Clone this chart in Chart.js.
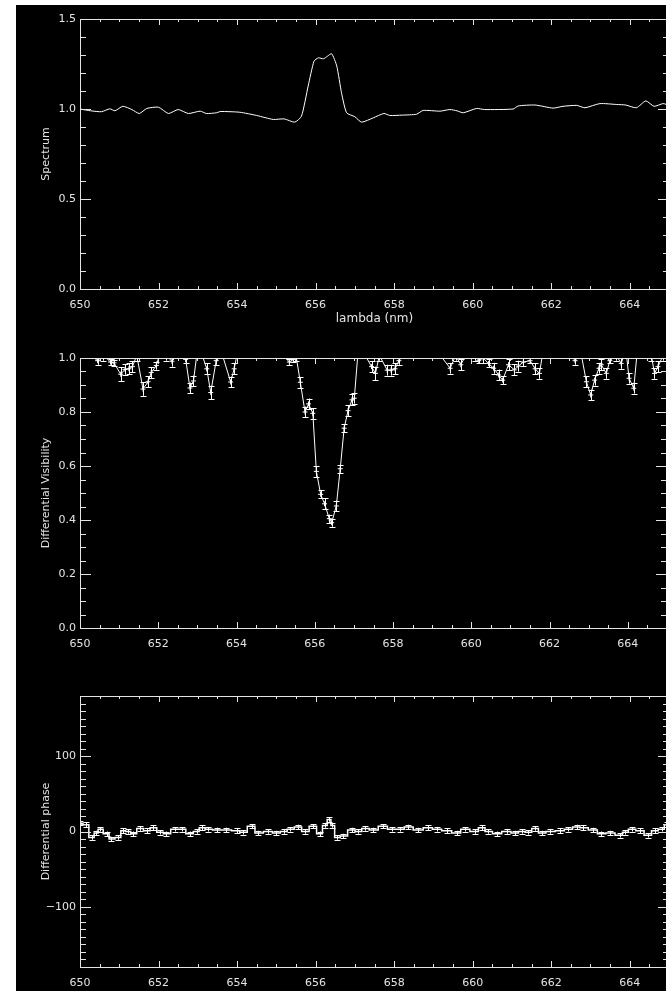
<!DOCTYPE html>
<html>
<head>
<meta charset="utf-8">
<script src="https://cdn.jsdelivr.net/npm/chart.js@4.4.0/dist/chart.umd.min.js"></script>
<style>
  html, body { margin: 0; padding: 0; background: #fff; overflow: hidden; width: 666px; height: 991px; }
  #stage { position: absolute; left: 16px; top: 5px; width: 660px; height: 986px; background: #000; }
  canvas { position: absolute; left: 16px; }
</style>
</head>
<body>
<div id="stage"></div>
<canvas id="cSpec" width="656" height="330" style="top:5px;width:656px;height:330px"></canvas>
<canvas id="cVis" width="656" height="330" style="top:335px;width:656px;height:330px"></canvas>
<canvas id="cPhase" width="656" height="326" style="top:665px;width:656px;height:326px"></canvas>
<script>
/* Hα spectro-interferometry plot: spectrum, differential visibility, differential phase. */

// ---- panel 1: spectrum ----
const specLambda = [650.00, 650.27, 650.55, 650.76, 650.89, 651.09, 651.32, 651.51, 651.70, 652.00,
  652.25, 652.50, 652.76, 653.06, 653.22, 653.48, 653.57, 654.07, 654.50, 654.92,
  655.20, 655.47, 655.64, 655.81, 655.96, 656.07, 656.20, 656.30, 656.41, 656.54,
  656.66, 656.79, 657.00, 657.17, 657.47, 657.74, 657.89, 658.20, 658.57, 658.74,
  659.17, 659.42, 659.60, 659.76, 660.10, 660.30, 661.03, 661.16, 661.59, 662.05,
  662.30, 662.65, 662.86, 663.24, 663.67, 663.90, 664.17, 664.41, 664.62, 664.85, 665.00];
const specFlux = [1.000, 0.990, 0.985, 1.001, 0.990, 1.015, 0.997, 0.975, 1.003, 1.010,
  0.975, 0.997, 0.975, 0.988, 0.975, 0.979, 0.986, 0.982, 0.964, 0.942,
  0.945, 0.927, 0.960, 1.127, 1.266, 1.284, 1.279, 1.293, 1.307, 1.238,
  1.090, 0.979, 0.957, 0.927, 0.951, 0.975, 0.964, 0.966, 0.971, 0.992,
  0.988, 0.997, 0.990, 0.979, 1.003, 0.997, 1.000, 1.017, 1.022, 1.005,
  1.015, 1.020, 1.007, 1.030, 1.025, 1.022, 1.007, 1.045, 1.015, 1.030, 1.020];

// ---- panel 2: differential visibility (values above 1.0 fall off the plot) ----
const visLambda = [650.00, 650.20, 650.45, 650.60, 650.78, 650.87, 651.04, 651.15, 651.25, 651.34,
  651.45, 651.61, 651.74, 651.82, 651.95, 652.05, 652.20, 652.35, 652.55, 652.70,
  652.81, 652.90, 653.00, 653.10, 653.24, 653.34, 653.48, 653.60, 653.85, 653.94,
  654.05, 654.50, 655.00, 655.35, 655.45, 655.53, 655.63, 655.75, 655.84, 655.95,
  656.04, 656.15, 656.25, 656.37, 656.43, 656.55, 656.65, 656.75, 656.85, 656.95,
  657.01, 657.12, 657.25, 657.45, 657.55, 657.65, 657.85, 657.95, 658.05, 658.15,
  658.30, 658.70, 659.10, 659.46, 659.60, 659.73, 659.90, 660.10, 660.19, 660.30,
  660.44, 660.57, 660.70, 660.80, 660.95, 661.10, 661.20, 661.33, 661.50, 661.63,
  661.74, 661.85, 662.20, 662.50, 662.65, 662.80, 662.94, 663.05, 663.15, 663.26,
  663.32, 663.45, 663.54, 663.70, 663.83, 663.95, 664.03, 664.15, 664.25, 664.45,
  664.60, 664.68, 664.77, 664.90, 665.00];
const visValue = [1.030, 1.020, 0.990, 1.010, 0.985, 0.982, 0.940, 0.958, 0.960, 0.968,
  1.010, 0.885, 0.912, 0.946, 0.972, 1.020, 1.010, 0.988, 1.020, 0.995,
  0.889, 0.915, 1.030, 1.020, 0.960, 0.872, 0.990, 1.030, 0.911, 0.960,
  1.040, 1.050, 1.040, 0.985, 0.995, 1.000, 0.910, 0.800, 0.830, 0.795,
  0.580, 0.495, 0.460, 0.405, 0.390, 0.452, 0.590, 0.740, 0.805, 0.845,
  0.851, 1.050, 1.020, 0.968, 0.943, 1.010, 0.955, 0.955, 0.960, 0.990,
  1.020, 1.040, 1.030, 0.962, 1.010, 0.975, 1.020, 1.010, 0.990, 1.000,
  0.980, 0.962, 0.937, 0.918, 0.975, 0.956, 0.970, 0.985, 0.990, 0.960,
  0.943, 1.040, 1.030, 1.020, 0.990, 1.020, 0.912, 0.863, 0.918, 0.962,
  0.975, 0.943, 0.990, 1.010, 0.980, 1.030, 0.925, 0.888, 1.040, 1.030,
  1.010, 0.943, 0.968, 1.010, 1.020];
const visError = [0.02, 0.02, 0.015, 0.02, 0.012, 0.012, 0.025, 0.02, 0.02, 0.02,
  0.02, 0.025, 0.02, 0.02, 0.015, 0.02, 0.02, 0.02, 0.02, 0.015,
  0.02, 0.02, 0.02, 0.02, 0.02, 0.025, 0.015, 0.02, 0.02, 0.02,
  0.02, 0.02, 0.02, 0.01, 0.01, 0.01, 0.02, 0.02, 0.02, 0.02,
  0.02, 0.015, 0.02, 0.015, 0.015, 0.02, 0.015, 0.015, 0.02, 0.02,
  0.02, 0.02, 0.02, 0.02, 0.025, 0.02, 0.02, 0.02, 0.02, 0.015,
  0.02, 0.02, 0.02, 0.02, 0.02, 0.02, 0.02, 0.02, 0.01, 0.02,
  0.015, 0.02, 0.02, 0.015, 0.02, 0.02, 0.02, 0.015, 0.01, 0.02,
  0.02, 0.02, 0.02, 0.02, 0.015, 0.02, 0.02, 0.02, 0.02, 0.02,
  0.02, 0.02, 0.01, 0.02, 0.02, 0.02, 0.02, 0.02, 0.02, 0.02,
  0.02, 0.02, 0.02, 0.02, 0.02];

// ---- panel 3: differential phase (degrees) ----
const phaseLambda = [650.00, 650.15, 650.30, 650.42, 650.50, 650.68, 650.80, 650.98, 651.10, 651.22,
  651.36, 651.53, 651.70, 651.87, 652.04, 652.20, 652.42, 652.59, 652.80, 652.97,
  653.10, 653.27, 653.48, 653.73, 653.99, 654.15, 654.37, 654.54, 654.80, 655.00,
  655.20, 655.35, 655.56, 655.73, 655.94, 656.11, 656.24, 656.35, 656.43, 656.54,
  656.71, 656.92, 657.09, 657.26, 657.47, 657.72, 657.94, 658.15, 658.36, 658.61,
  658.87, 659.08, 659.34, 659.59, 659.80, 660.06, 660.23, 660.40, 660.61, 660.87,
  661.08, 661.25, 661.42, 661.59, 661.76, 661.97, 662.23, 662.44, 662.65, 662.82,
  663.07, 663.28, 663.50, 663.75, 663.88, 664.05, 664.26, 664.47, 664.64, 664.81, 664.95];
const phaseValue = [11, 9, -8, -2, 3, -3, -10, -8, 1, 0,
  -3, 4, 1, 5, -1, -3, 3, 3, -3, 0,
  5, 3, 2, 2, 1, -1, 7, -2, 0, -2,
  0, 3, 6, 0, 7, -3, 8, 16, 8, -8,
  -6, 2, 0, 4, 2, 7, 3, 3, 6, 2,
  5, 3, 1, -2, 3, 0, 5, 0, -3, 0,
  -2, 0, -1, 4, -2, 0, 1, 3, 6, 5,
  2, -3, -2, -5, -1, 3, 1, -5, 1, 3, 9];
const phaseError = 3;

const FG = "#e4e4e4";
const LINE = "#ffffff";
const FONT = "'DejaVu Sans', sans-serif";

const pts = (xs, ys) => xs.map((x, i) => ({ x, y: ys[i] }));

// IDL style frame: box round the plot area, ticks pointing inwards on all four sides
const idlFrame = {
  id: "idlFrame",
  afterDraw(chart, args, o) {
    const { ctx, chartArea: a, scales: { x, y } } = chart;
    ctx.save();
    ctx.strokeStyle = FG;
    ctx.lineWidth = 1;
    ctx.beginPath();
    ctx.rect(a.left + 0.5, a.top + 0.5, a.right - a.left, a.bottom - a.top);
    for (let v = x.min; v <= x.max + 1e-9; v += o.xMinor) {
      const px = Math.round(x.getPixelForValue(v)) + 0.5;
      const major = Math.abs(v / o.xMajor - Math.round(v / o.xMajor)) < 1e-6;
      const len = major ? 6 : 3;
      ctx.moveTo(px, a.bottom); ctx.lineTo(px, a.bottom - len);
      ctx.moveTo(px, a.top); ctx.lineTo(px, a.top + len);
    }
    for (let v = y.min; v <= y.max + 1e-9; v += o.yMinor) {
      const py = Math.round(y.getPixelForValue(v)) + 0.5;
      const major = Math.abs(v / o.yMajor - Math.round(v / o.yMajor)) < 1e-6;
      const len = major ? 11 : 6;
      ctx.moveTo(a.left, py); ctx.lineTo(a.left + len, py);
      ctx.moveTo(a.right, py); ctx.lineTo(a.right - len, py);
    }
    ctx.stroke();
    ctx.restore();
  },
};

// vertical error bars with small caps, read from dataset.errors
const errorBars = {
  id: "errorBars",
  afterDatasetsDraw(chart) {
    const { ctx, chartArea: a, scales: { x, y } } = chart;
    ctx.save();
    ctx.beginPath();
    ctx.rect(a.left, a.top, a.right - a.left, a.bottom - a.top);
    ctx.clip();
    ctx.strokeStyle = LINE;
    ctx.lineWidth = 1;
    chart.data.datasets.forEach((ds) => {
      if (ds.errors === undefined) return;
      ctx.beginPath();
      ds.data.forEach((p, i) => {
        const e = Array.isArray(ds.errors) ? ds.errors[i] : ds.errors;
        const px = Math.round(x.getPixelForValue(p.x)) + 0.5;
        const y1 = y.getPixelForValue(p.y - e), y2 = y.getPixelForValue(p.y + e);
        ctx.moveTo(px, y1); ctx.lineTo(px, y2);
        ctx.moveTo(px - 3, Math.round(y1) + 0.5); ctx.lineTo(px + 3, Math.round(y1) + 0.5);
        ctx.moveTo(px - 3, Math.round(y2) + 0.5); ctx.lineTo(px + 3, Math.round(y2) + 0.5);
      });
      ctx.stroke();
    });
    ctx.restore();
  },
};

function xScale(height, title) {
  return {
    type: "linear", min: 650, max: 665,
    afterFit: (s) => { s.height = height; },
    grid: { display: false, drawTicks: false }, border: { display: false },
    ticks: { stepSize: 2, includeBounds: false, padding: 10, maxRotation: 0, autoSkip: false,
      color: FG, font: { family: FONT, size: 11 }, callback: (v) => String(v) },
    title: title ? { display: true, text: title, color: FG, font: { family: FONT, size: 12 },
      padding: { top: 0, bottom: 3 } } : { display: false },
  };
}

function yScale(min, max, step, title, fmt) {
  return {
    min, max,
    afterFit: (s) => { s.width = 64; },
    grid: { display: false, drawTicks: false }, border: { display: false },
    ticks: { stepSize: step, includeBounds: false, padding: 4, autoSkip: false,
      color: FG, font: { family: FONT, size: 11 }, callback: fmt },
    title: { display: true, text: title, color: FG, font: { family: FONT, size: 11 },
      padding: { top: 24, bottom: 0 } },
  };
}

function panel(id, datasets, x, y, frame, pad) {
  return new Chart(document.getElementById(id), {
    type: "line",
    data: { datasets },
    options: {
      responsive: false, animation: false, devicePixelRatio: 1,
      layout: { padding: pad },
      plugins: { legend: { display: false }, tooltip: { enabled: false }, idlFrame: frame },
      scales: { x, y },
    },
    plugins: [idlFrame, errorBars],
  });
}

panel("cSpec",
  [{ data: pts(specLambda, specFlux), borderColor: LINE, borderWidth: 1, pointRadius: 0, tension: 0.2 }],
  xScale(40, "lambda (nm)"),
  yScale(0, 1.5, 0.5, "Spectrum", (v) => v.toFixed(1)),
  { xMajor: 2, xMinor: 0.5, yMajor: 0.5, yMinor: 0.1 },
  { top: 14, right: 3, bottom: 6, left: 0 });

panel("cVis",
  [{ data: pts(visLambda, visValue), errors: visError, borderColor: LINE, borderWidth: 1,
     pointStyle: "cross", pointRadius: 2.5, pointBorderColor: LINE, pointBorderWidth: 1 }],
  xScale(30, null),
  yScale(0, 1.0, 0.2, "Differential Visibility", (v) => v.toFixed(1)),
  { xMajor: 2, xMinor: 0.5, yMajor: 0.2, yMinor: 0.05 },
  { top: 23, right: 3, bottom: 7, left: 0 });

panel("cPhase",
  [{ data: pts(phaseLambda, phaseValue), errors: phaseError, borderColor: LINE, borderWidth: 1.5,
     pointRadius: 0, stepped: "middle" }],
  xScale(24, null),
  yScale(-180, 180, 100, "Differential phase", (v) => (v % 100 === 0 ? String(v).replace("-", "\u2212") : "")),
  { xMajor: 2, xMinor: 0.5, yMajor: 100, yMinor: 10 },
  { top: 31, right: 3, bottom: 0, left: 0 });
</script>
</body>
</html>
